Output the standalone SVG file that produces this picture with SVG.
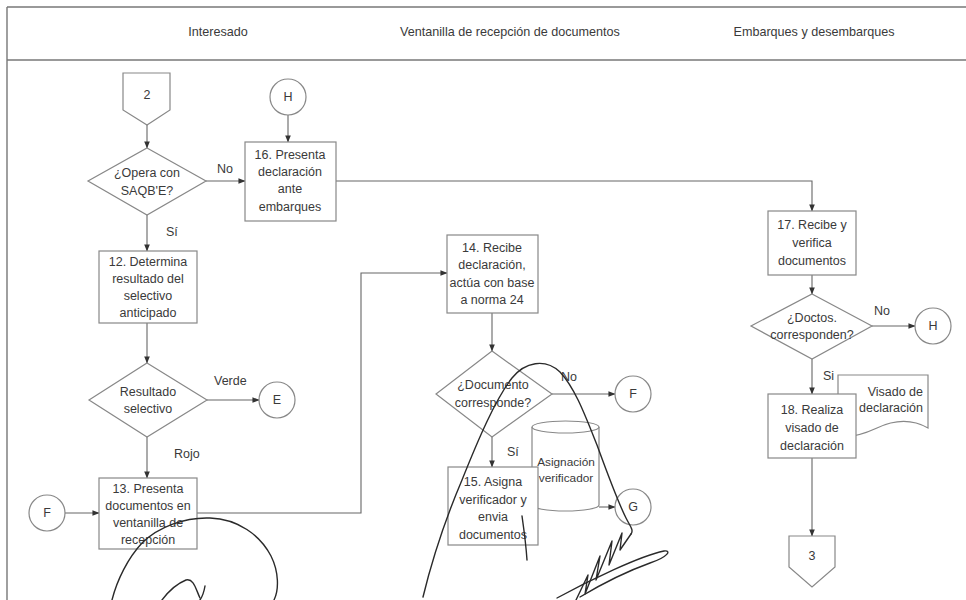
<svg xmlns="http://www.w3.org/2000/svg" width="966" height="600" viewBox="0 0 966 600">
  <defs>
    <marker id="arrow" viewBox="0 0 8 8" refX="7.5" refY="4" markerWidth="7" markerHeight="7" markerUnits="userSpaceOnUse" orient="auto">
      <path d="M0,0.8 L8,4 L0,7.2 Z" fill="#333"/>
    </marker>
    <style>
      .frame { fill: none; stroke: #777; stroke-width: 1.4; }
      .shape { fill: #fff; stroke: #888; stroke-width: 1.2; }
      .edge { fill: none; stroke: #666; stroke-width: 1.1; }
      .arr { marker-end: url(#arrow); }
      .t { font-family: "Liberation Sans", Arial, sans-serif; font-size: 12.5px; fill: #3a3a3a; text-anchor: middle; }
      .h { font-family: "Liberation Sans", Arial, sans-serif; font-size: 12.6px; fill: #3a3a3a; text-anchor: middle; }
      .lbl { font-family: "Liberation Sans", Arial, sans-serif; font-size: 12.5px; fill: #3a3a3a; }
      .ink { fill: none; stroke: #2a2a2a; stroke-width: 1.4; stroke-linecap: round; stroke-linejoin: round; }
    </style>
  </defs>
  <rect width="966" height="600" fill="#fff"/>

  <!-- lane header -->
  <g id="header">
    <line class="frame" x1="7" y1="7" x2="966" y2="7"/>
    <line class="frame" x1="7" y1="60" x2="966" y2="60"/>
    <line class="frame" x1="7" y1="7" x2="7" y2="600"/>
    <text class="h" x="218" y="36">Interesado</text>
    <text class="h" x="510" y="36">Ventanilla de recepción de documentos</text>
    <text class="h" x="814" y="36">Embarques y desembarques</text>
  </g>

  <!-- connectors -->
  <g id="connectors">
    <line class="edge arr" x1="147" y1="125" x2="147" y2="148"/>
    <line class="edge arr" x1="206" y1="181" x2="245" y2="181"/>
    <line class="edge arr" x1="288" y1="115" x2="288" y2="142"/>
    <polyline class="edge arr" points="336,181 812,181 812,211"/>
    <line class="edge arr" x1="147" y1="215" x2="147" y2="251"/>
    <line class="edge arr" x1="147" y1="323" x2="147" y2="363"/>
    <line class="edge arr" x1="207" y1="400" x2="259" y2="400"/>
    <line class="edge arr" x1="147" y1="437" x2="147" y2="478"/>
    <line class="edge arr" x1="65" y1="513" x2="99" y2="513"/>
    <polyline class="edge arr" points="197,513 361,513 361,273 447,273"/>
    <line class="edge arr" x1="492" y1="313" x2="492" y2="351"/>
    <line class="edge arr" x1="552" y1="394" x2="615" y2="394"/>
    <line class="edge arr" x1="492" y1="437" x2="492" y2="467"/>
    <line class="edge arr" x1="599" y1="507" x2="615" y2="507"/>
    <line class="edge arr" x1="812" y1="275" x2="812" y2="294"/>
    <line class="edge arr" x1="872" y1="326" x2="915" y2="326"/>
    <line class="edge arr" x1="812" y1="359" x2="812" y2="394"/>
    <line class="edge arr" x1="812" y1="458" x2="812" y2="536"/>
    <text class="lbl" x="217" y="173">No</text>
    <text class="lbl" x="166" y="236">Sí</text>
    <text class="lbl" x="214" y="385">Verde</text>
    <text class="lbl" x="174" y="458">Rojo</text>
    <text class="lbl" x="561" y="381">No</text>
    <text class="lbl" x="507" y="456">Sí</text>
    <text class="lbl" x="874" y="315">No</text>
    <text class="lbl" x="823" y="380">Si</text>
  </g>

  <!-- Interesado lane -->
  <g id="off-page-2">
    <path class="shape" d="M123,73 H170 V110 L147,125 L123,110 Z"/>
    <text class="t" x="147" y="99">2</text>
  </g>
  <g id="decision-saqbe">
    <path class="shape" d="M147,148 L206,181 L147,215 L88,181 Z"/>
    <text class="t" x="147" y="177">¿Opera con</text>
    <text class="t" x="147" y="195">SAQB'E?</text>
  </g>
  <g id="step-12">
    <rect class="shape" x="99" y="251" width="98" height="72"/>
    <text class="t" x="148" y="266">12. Determina</text>
    <text class="t" x="148" y="283">resultado del</text>
    <text class="t" x="148" y="300">selectivo</text>
    <text class="t" x="148" y="317">anticipado</text>
  </g>
  <g id="decision-resultado">
    <path class="shape" d="M147,363 L207,400 L147,437 L89,400 Z"/>
    <text class="t" x="148" y="396">Resultado</text>
    <text class="t" x="148" y="413">selectivo</text>
  </g>
  <g id="connector-E">
    <circle class="shape" cx="277" cy="400" r="18"/>
    <text class="t" x="277" y="404">E</text>
  </g>
  <g id="connector-F-in">
    <circle class="shape" cx="47" cy="513" r="18"/>
    <text class="t" x="47" y="517">F</text>
  </g>
  <g id="step-13">
    <rect class="shape" x="99" y="478" width="98" height="71"/>
    <text class="t" x="148" y="493">13. Presenta</text>
    <text class="t" x="148" y="510">documentos en</text>
    <text class="t" x="148" y="527">ventanilla de</text>
    <text class="t" x="148" y="544">recepción</text>
  </g>
  <g id="connector-H-in">
    <circle class="shape" cx="288" cy="97" r="18"/>
    <text class="t" x="288" y="101">H</text>
  </g>
  <g id="step-16">
    <rect class="shape" x="245" y="142" width="91" height="79"/>
    <text class="t" x="290" y="159">16. Presenta</text>
    <text class="t" x="290" y="176">declaración</text>
    <text class="t" x="290" y="193">ante</text>
    <text class="t" x="290" y="211">embarques</text>
  </g>

  <!-- Ventanilla lane -->
  <g id="step-14">
    <rect class="shape" x="447" y="235" width="91" height="78"/>
    <text class="t" x="492" y="252">14. Recibe</text>
    <text class="t" x="492" y="269">declaración,</text>
    <text class="t" x="492" y="287">actúa con base</text>
    <text class="t" x="492" y="304">a norma 24</text>
  </g>
  <g id="decision-documento">
    <path class="shape" d="M492,351 L552,394 L492,437 L436,394 Z"/>
    <text class="t" x="493" y="389">¿Documento</text>
    <text class="t" x="493" y="407">corresponde?</text>
  </g>
  <g id="connector-F-out">
    <circle class="shape" cx="633" cy="394" r="18"/>
    <text class="t" x="633" y="398">F</text>
  </g>
  <g id="store-asignacion">
    <path class="shape" d="M532,427 V505 A33.5,6 0 0 0 599,505 V427"/>
    <ellipse class="shape" cx="565.5" cy="427" rx="33.5" ry="6"/>
    <text class="t" x="566" y="466" style="font-size:11.8px">Asignación</text>
    <text class="t" x="566" y="482" style="font-size:11.8px">verificador</text>
  </g>
  <g id="step-15">
    <rect class="shape" x="448" y="467" width="90" height="78"/>
    <text class="t" x="493" y="486">15. Asigna</text>
    <text class="t" x="493" y="504">verificador y</text>
    <text class="t" x="493" y="521">envia</text>
    <text class="t" x="493" y="539">documentos</text>
  </g>
  <g id="connector-G">
    <circle class="shape" cx="633" cy="507" r="18"/>
    <text class="t" x="633" y="511">G</text>
  </g>

  <!-- Embarques lane -->
  <g id="step-17">
    <rect class="shape" x="768" y="211" width="88" height="64"/>
    <text class="t" x="812" y="229">17. Recibe y</text>
    <text class="t" x="812" y="247">verifica</text>
    <text class="t" x="812" y="265">documentos</text>
  </g>
  <g id="decision-doctos">
    <path class="shape" d="M812,294 L872,326 L812,359 L751,326 Z"/>
    <text class="t" x="812" y="322">¿Doctos.</text>
    <text class="t" x="812" y="339">corresponden?</text>
  </g>
  <g id="connector-H-out">
    <circle class="shape" cx="933" cy="326" r="18"/>
    <text class="t" x="933" y="330">H</text>
  </g>
  <g id="doc-visado">
    <path class="shape" d="M838,375 H928 V428 C912,419 894,420 877,428 C864,434 850,438 838,437 Z"/>
    <text class="t" x="923" y="396" style="text-anchor:end">Visado de</text>
    <text class="t" x="923" y="412" style="text-anchor:end">declaración</text>
  </g>
  <g id="step-18">
    <rect class="shape" x="768" y="394" width="88" height="64"/>
    <text class="t" x="812" y="414">18. Realiza</text>
    <text class="t" x="812" y="432">visado de</text>
    <text class="t" x="812" y="450">declaración</text>
  </g>
  <g id="off-page-3">
    <path class="shape" d="M789,536 H835 V567 L812,587 L789,567 Z"/>
    <text class="t" x="812" y="560">3</text>
  </g>

  <!-- handwritten signatures over the sheet -->
  <g id="signatures">
    <path class="ink" d="M112,600 C117,580 128,558 142,543 C158,527 185,517 210,518 C238,519 260,535 271,556 C279,572 279,590 274,600"/>
    <path class="ink" d="M162,600 C168,592 176,584 186,580 C194,578 196,590 200,598"/>
    <path class="ink" d="M205,586 C204,592 202,597 200,600"/>
    <path class="ink" d="M423,597 C432,560 445,520 462,480 C478,440 495,400 512,378 C525,362 545,358 560,372 C575,388 585,415 597,445 C608,475 617,500 626,518 C630,526 634,530 631,534"/>
    <path class="ink" d="M631,534 L620,550 L622,533 L609,565 L612,541 L596,580 L600,556 L585,594 L588,575 L576,600"/>
    <path class="ink" d="M557,598 C590,580 640,556 664,551 C672,550 668,557 650,563 C625,572 600,585 580,597"/>
    <path class="ink" d="M522,516 C524,530 526,545 527,560"/>
  </g>
</svg>
